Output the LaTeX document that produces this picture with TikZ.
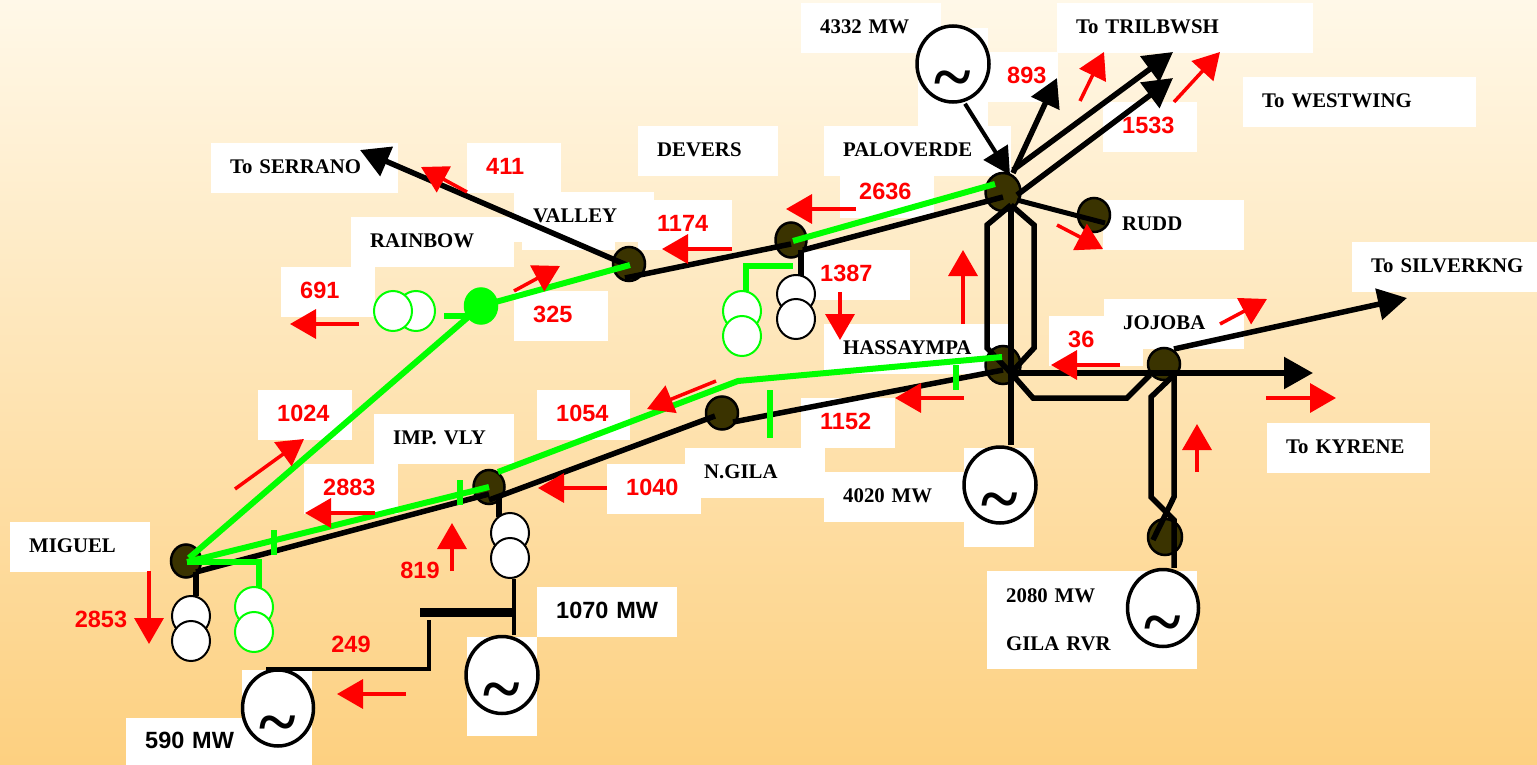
\documentclass[tikz,border=0pt]{standalone}
\usepackage{fontspec}
\setmainfont{Liberation Serif}
\setsansfont{Liberation Sans}
\usetikzlibrary{shapes.geometric, arrows.meta, calc}
\definecolor{bgtop}{RGB}{255,248,232}
\definecolor{bgbottom}{RGB}{253,208,128}
\definecolor{busfill}{RGB}{58,51,0}
\definecolor{flowred}{RGB}{255,0,0}
\definecolor{linegreen}{RGB}{0,255,0}
\newcommand{\gensym}{\raisebox{-37pt}[0pt][0pt]{\bfseries\fontsize{70}{70}\selectfont\textasciitilde}}
\tikzset{
  patch/.style={rectangle, fill=white, anchor=north west, inner sep=0pt},
  namebox/.style={rectangle, fill=white, anchor=north west, minimum height=50pt, inner xsep=19pt, inner ysep=0pt, text width=#1pt, text depth=3pt, align=left, font=\bfseries\fontsize{20.8}{25}\selectfont},
  flowbox/.style={namebox=#1, text=flowred, font=\sffamily\bfseries\fontsize{23.5}{28}\selectfont},
  powerbox/.style={namebox=#1, font=\sffamily\bfseries\fontsize{23.5}{28}\selectfont},
  flowtext/.style={text=flowred, inner sep=0pt, font=\sffamily\bfseries\fontsize{23.5}{28}\selectfont},
  bus/.style={ellipse, draw=black, fill=busfill, line width=2.5pt, minimum width=32pt, minimum height=35pt, inner sep=0pt},
  gen/.style={ellipse, draw=black, fill=white, line width=3.5pt, minimum width=72pt, minimum height=76pt, inner sep=0pt},
  xfmr/.style={ellipse, draw=black, fill=white, line width=2pt, minimum width=38pt, minimum height=40pt, inner sep=0pt},
  greenxfmr/.style={xfmr, draw=linegreen},
  blackline/.style={draw=black, line width=5.5pt},
  greenline/.style={draw=linegreen, line width=6pt},
  tickline/.style={draw=linegreen, line width=6pt},
  blackarrow/.style={blackline, -{Triangle[length=29pt,width=31pt]}},
  flowarrow/.style={draw=flowred, line width=3.5pt, -{Triangle[length=26pt,width=29pt]}, color=flowred}
}
\begin{document}
\begin{tikzpicture}[x=1pt, y=-1pt]
\useasboundingbox (0,0) rectangle (1537,765);
\shade[top color=bgtop, bottom color=bgbottom] (0,0) rectangle (1537,765);

% White label boxes
\node[namebox=102] (lpower1) at (801,3) {4332 MW};
\node[patch, minimum width=70pt, minimum height=98pt] (pgen1) at (918,28) {};
\node[flowbox=32] (l893) at (988,52) {893};
\node[namebox=218] (ltril) at (1057,3) {To TRILBWSH};
\node[namebox=195] (lwest) at (1243,77) {To WESTWING};
\node[flowbox=56] (l1533) at (1103,102) {1533};
\node[namebox=149] (lpalo) at (824,126) {PALOVERDE};
\node[namebox=102] (ldevers) at (638,126) {DEVERS};
\node[flowbox=56] (l2636) at (840,168) {2636};
\node[namebox=103] (lrudd) at (1103,200) {RUDD};
\node[namebox=149] (lserrano) at (211,143) {To SERRANO};
\node[flowbox=56] (l411) at (467,143) {411};
\node[patch, minimum width=93pt, minimum height=50pt] (pvalley) at (522,200) {};
\node[namebox=102] (lvalley) at (514,192) {VALLEY};
\node[flowbox=56] (l1174) at (638,200) {1174};
\node[namebox=125] (lrainbow) at (351,217) {RAINBOW};
\node[flowbox=56] (l691) at (281,267) {691};
\node[flowbox=56] (l325) at (514,291) {325};
\node[flowbox=71] (l1387) at (801,250) {1387};
\node[namebox=149] (lhass) at (824,324) {HASSAYMPA};
\node[flowbox=56] (l36) at (1049,316) {36};
\node[namebox=102] (ljojoba) at (1104,299) {JOJOBA};
\node[namebox=147] (lsilver) at (1352,242) {\mbox{To SILVERKNG}};
\node[flowbox=56] (l1024) at (258,390) {1024};
\node[flowbox=55] (l1054) at (537,390) {1054};
\node[flowbox=56] (l1152) at (801,398) {1152};
\node[namebox=125] (lkyrene) at (1267,423) {To KYRENE};
\node[namebox=102] (limp) at (374,414) {IMP. VLY};
\node[namebox=102] (lngila) at (685,448) {N.GILA};
\node[namebox=102] (lpower2) at (824,472) {4020 MW};
\node[patch, minimum width=70pt, minimum height=99pt] (pgen2) at (964,448) {};
\node[flowbox=56] (l2883) at (304,464) {2883};
\node[flowbox=56] (l1040) at (607,464) {1040};
\node[namebox=102] (lmiguel) at (10,522) {MIGUEL};
\node[namebox=172, minimum height=98pt, text depth={}] (lgila) at (987,571) {2080 MW\\[23pt]GILA RVR};
\node[powerbox=102] (lpower3) at (537,587) {1070 MW};
\node[patch, minimum width=70pt, minimum height=99pt] (pgen3) at (467,637) {};
\node[patch, minimum width=70pt, minimum height=50pt] (pgen4) at (242,670) {};
\node[powerbox=148, minimum height=47pt] (lpower4) at (126,718) {590 MW};
\node[flowtext] (l2853) at (101,619) {2853};
\node[flowtext] (l819) at (420,570) {819};
\node[flowtext] (l249) at (351,644) {249};

% Buses
\node[bus, minimum width=30pt, minimum height=33pt] (miguel) at (186,561) {};
\node[bus, minimum width=31pt, minimum height=34pt] (impvly) at (489,487) {};
\node[bus, minimum height=33pt] (ngila) at (722,413) {};
\node[bus, minimum width=35pt, minimum height=38pt] (hassaympa) at (1003,365) {};
\node[bus, minimum height=32pt] (jojoba) at (1164,364) {};
\node[bus, minimum width=34pt, minimum height=36pt] (gilarvr) at (1165,537) {};
\node[bus, minimum height=34pt] (rudd) at (1094,215) {};
\node[bus, minimum width=35pt, minimum height=38pt] (paloverde) at (1003,192) {};
\node[bus, minimum width=31pt] (devers) at (791,240) {};
\node[bus, minimum height=34pt] (valley) at (629,264) {};
\node[bus, draw=linegreen, fill=linegreen, minimum width=32pt] (rainbow) at (481,306) {};

% Free ends and forks
\coordinate (toserrano) at (360,150);
\coordinate (to893) at (1057,78);
\coordinate (totril) at (1173,52);
\coordinate (towest) at (1173,78);
\coordinate (tosilver) at (1407,298);
\coordinate (tokyrene) at (1313,373);
\coordinate (barleft) at (420,612);
\coordinate (barright) at (514,612);
\coordinate (pvfork) at ([shift={(8,13)}]paloverde.center);
\coordinate (hafork) at ([shift={(8,8)}]hassaympa.center);
\coordinate (jofork) at ([shift={(10,11)}]jojoba.center);

% Generators
\node[gen] (gen4332) at (953,64) {\gensym};
\node[gen] (gen4020) at (1000,485) {\gensym};
\node[gen, minimum width=71pt, minimum height=77pt] (gen2080) at (1163,608) {\gensym};
\node[gen, minimum height=77pt] (gen1070) at (502,675) {\gensym};
\node[gen, minimum width=71pt] (gen590) at (278,708) {\gensym};

% Black lines
\draw[blackarrow] ([shift={(0,2)}]valley.center) -- (toserrano);
\draw[blackline] ([shift={(-4,14)}]valley.center) -- ([shift={(0,4)}]devers.center);
\draw[blackline] ([shift={(12,10)}]devers.center) -- ([shift={(0,5)}]paloverde.center);
\draw[blackline] ([shift={(10,10)}]devers.center) -- ([shift={(10,40)}]devers.center);
\draw[blackarrow, line width=4pt, -{Triangle[length=27pt,width=28pt]}] ([shift={(12,0)}]gen4332.south) -- ([shift={(7,-17)}]paloverde.center);
\draw[blackarrow, -{Triangle[length=28pt,width=30pt]}] ([shift={(10,-19)}]paloverde.center) -- (to893);
\draw[blackarrow] ([shift={(10,-22)}]paloverde.center) -- (totril);
\draw[blackarrow] ([shift={(14,3)}]paloverde.center) -- (towest);
\draw[blackline, line width=5pt] ([shift={(14,8)}]paloverde.center) -- ([shift={(11,8)}]rudd.center);
\draw[blackline] (pvfork) -- (hafork);
\draw[blackline] (pvfork) -- ++(-24,20) -- ++(0,123) -- (hafork);
\draw[blackline] (pvfork) -- ++(23,20) -- ++(0,123) -- (hafork);
\draw[blackline] (hafork) -- (hafork |- gen4020.north);
\draw[blackline] ([shift={(10,11)}]miguel.center) -- ([shift={(0,7)}]impvly.center);
\draw[blackline] ([shift={(0,13)}]impvly.center) -- ([shift={(-7,3)}]ngila.center);
\draw[blackline] ([shift={(11,9)}]ngila.center) -- ([shift={(0,5)}]hassaympa.center);
\draw[blackarrow] (hafork) -- (tokyrene);
\draw[blackline] (hafork) -- ++(22,25) -- ++(94,0) -- ([shift={(-14,11)}]jojoba.center);
\draw[blackarrow] ([shift={(10,-15)}]jojoba.center) -- (tosilver);
\draw[blackline] (jofork) -- ++(-23,22) -- ++(0,100) -- ++(23,23) -- (jofork |- gen2080.north);
\draw[blackline] (jofork) -- ++(0,122) -- ([shift={(-12,3)}]gilarvr.center);
\draw[blackline] ([shift={(10,11)}]miguel.center) -- ++(0,24);
\draw[blackline] ([shift={(10,10)}]impvly.center) -- ++(0,20);

% Transformers
\node[xfmr, minimum height=38pt] (xdeversa) at (796,294) {};
\node[xfmr] (xdeversb) at (796,319) {};
\node[xfmr] (xmiguela) at (191,616) {};
\node[xfmr] (xmiguelb) at (191,641) {};
\node[xfmr] (ximpa) at (510,533) {};
\node[xfmr] (ximpb) at (510,558) {};
\node[greenxfmr] (gdeversa) at (742,311) {};
\node[greenxfmr] (gdeversb) at (742,336) {};
\node[greenxfmr] (grainb) at (416,311) {};
\node[greenxfmr] (graina) at (393,311) {};
\node[greenxfmr] (gmiguela) at (254,607) {};
\node[greenxfmr] (gmiguelb) at (254,632) {};

% Generator feed at Imp. Vly
\draw[blackline, line width=4pt] (ximpb.south -| barright) -- (barright |- gen1070.north);
\draw[blackline, line width=9pt] (barleft) -- (barright);
\draw[blackline, line width=4pt] ([shift={(9,8)}]barleft) -- ([shift={(9,57)}]barleft) -- ([shift={(-154,57)}]barleft);

% Green lines
\draw[greenline] (rainbow.center) -- ([shift={(1,1)}]valley.center);
\draw[greenline] (rainbow.center) -- ([shift={(3,-3)}]miguel.center);
\draw[greenline] ([shift={(-37,10)}]rainbow.center) -- ++(24,0);
\draw[greenline] ([shift={(2,1)}]devers.center) -- ([shift={(-8,-8)}]paloverde.center);
\draw[greenline] ([shift={(2,26)}]devers.center) -- ++(-47,0) -- ++(0,25);
\draw[greenline] ([shift={(1,1)}]miguel.center) -- (impvly.center);
\draw[greenline] ([shift={(1,1)}]miguel.center) -- ++(72,0) -- ++(0,26);
\draw[greenline] ([shift={(-1,-8)}]hassaympa.center) -- (738,381) -- ([shift={(9,-15)}]impvly.center);
\draw[tickline] (274,530) -- (274,555);
\draw[tickline] (460,480) -- (460,505);
\draw[tickline] (770,390) -- (770,438);
\draw[tickline] (956,365) -- (956,390);

% Flows
\foreach \n/\xa/\ya/\xb/\yb in {a/467/192/421/167, b/856/209/786/209, c/732/249/662/249, d/514/291/560/266, e/359/324/290/324, f/840/292/840/340, g/963/324/963/250, h/1174/102/1220/52, i/1080/101/1104/52, j/1057/225/1103/249, k/1120/365/1051/365, l/1220/324/1267/299, m/1266/398/1336/398, n/1197/472/1197/424, o/964/398/895/398, p/716/381/647/409, q/607/488/538/488, r/375/513/305/513, s/235/489/304/439, t/452/571/452/523, u/149/571/149/644, v/406/694/337/694} {
  \coordinate (\n tail) at (\xa,\ya);
  \coordinate (\n tip) at (\xb,\yb);
  \draw[flowarrow] (\n tail) -- (\n tip);
}
\end{tikzpicture}
\end{document}
